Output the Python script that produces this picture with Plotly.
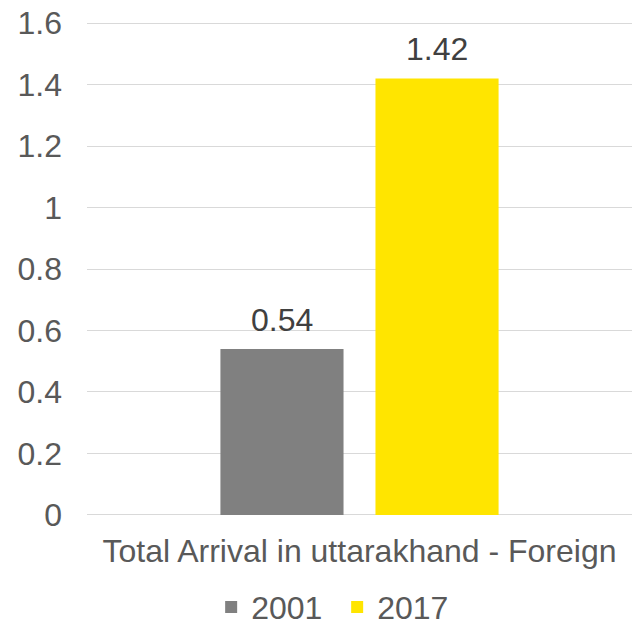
import plotly.graph_objects as go

categories = ["Total Arrival in uttarakhand - Foreign"]
series_names = ["2001", "2017"]
values_2001 = [0.54]
values_2017 = [1.42]
colors = ["#808080", "#FFE500"]
y_ticks = [0, 0.2, 0.4, 0.6, 0.8, 1.0, 1.2, 1.4, 1.6]
y_tick_labels = ["0", "0.2", "0.4", "0.6", "0.8", "1", "1.2", "1.4", "1.6"]

font_family = "Liberation Sans, Arial, sans-serif"
FS = 32
bargap = 0.431
bargroupgap = 0.206

series = [values_2001, values_2017]
fig = go.Figure()
for name, vals, col in zip(series_names, series, colors):
    fig.add_trace(go.Bar(
        x=categories, y=vals, name=name, marker_color=col,
        marker_line_width=0,
    ))

# data labels above each bar (positions from category index and bar layout)
n = len(series)
group = 1 - bargap
slot = group / n
for k, vals in enumerate(series):
    for i, v in enumerate(vals):
        fig.add_annotation(
            x=i - group / 2 + slot * (k + 0.5), y=v, xref="x", yref="y",
            text=f"{v:.2f}", showarrow=False, yanchor="bottom", yshift=9,
            font=dict(size=FS, color="#404040", family=font_family),
        )

fig.update_layout(
    width=635, height=626,
    margin=dict(l=87, r=3, t=19.6, b=108.2, autoexpand=False),
    plot_bgcolor="white", paper_bgcolor="white",
    barmode="group", bargap=bargap, bargroupgap=bargroupgap,
    font=dict(family=font_family, color="#595959", size=FS),
    showlegend=True,
    legend=dict(orientation="h", x=0.459, xanchor="center", y=-0.179, yanchor="middle",
                font=dict(size=FS, color="#595959"), itemwidth=30,
                entrywidth=81, entrywidthmode="pixels",
                traceorder="normal"),
)
fig.update_yaxes(range=[-0.01, 1.61], tickvals=y_ticks, ticktext=y_tick_labels,
                 showgrid=True, gridcolor="#D9D9D9", gridwidth=1.3,
                 zeroline=False, showline=False, ticks="", automargin=False,
                 ticklabeloverflow="allow",
                 ticklabelstandoff=24, tickfont=dict(size=FS, color="#595959"))
fig.update_xaxes(showgrid=False, showline=False, ticks="", automargin=False,
                 ticklabelstandoff=11, tickfont=dict(size=FS, color="#595959"))

fig.write_html("out.html",
               config={"displayModeBar": False},
               post_script="document.body.style.margin='0px';document.body.style.overflow='hidden';")
